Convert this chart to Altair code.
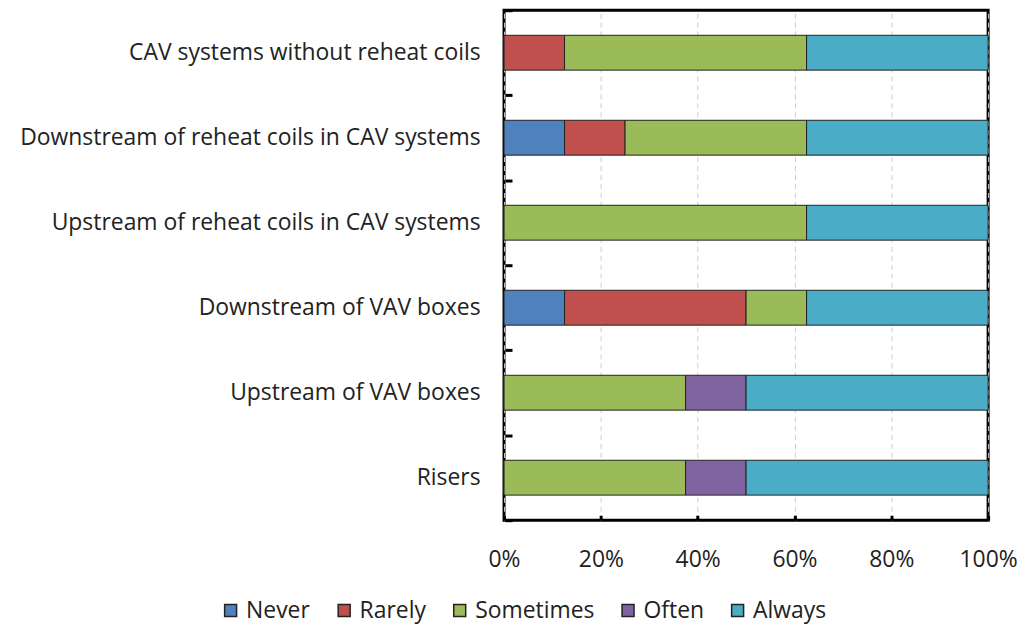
import altair as alt
import pandas as pd

categories = [
    "CAV systems without reheat coils",
    "Downstream of reheat coils in CAV systems",
    "Upstream of reheat coils in CAV systems",
    "Downstream of VAV boxes",
    "Upstream of VAV boxes",
    "Risers",
]
series = ["Never", "Rarely", "Sometimes", "Often", "Always"]
colors = ["#4F81BD", "#C0504D", "#9BBB59", "#8064A2", "#4BACC6"]

never = [0, 12.5, 0, 12.5, 0, 0]
rarely = [12.5, 12.5, 0, 37.5, 0, 0]
sometimes = [50, 37.5, 62.5, 12.5, 37.5, 37.5]
often = [0, 0, 0, 0, 12.5, 12.5]
always = [37.5, 37.5, 37.5, 37.5, 50, 50]

x_ticks = [0, 0.2, 0.4, 0.6, 0.8, 1.0]

rows = []
for s_i, (name, vals) in enumerate(zip(series, [never, rarely, sometimes, often, always])):
    for c, v in zip(categories, vals):
        rows.append({"category": c, "series": name, "value": v / 100.0, "rank": s_i})
df = pd.DataFrame(rows)

FONT = "Open Sans"
FS = 23

chart = alt.Chart(df).mark_bar(
    height=alt.RelativeBandSize(0.41), stroke="#222222", strokeWidth=1
).encode(
    y=alt.Y(
        "category:N",
        sort=categories,
        title=None,
        scale=alt.Scale(paddingInner=0, paddingOuter=0),
        axis=alt.Axis(
            domain=False,
            tickBand="extent",
            ticks=True,
            tickSize=7,
            tickWidth=3,
            tickColor="black",
            offset=-8,
            labelPadding=25,
            labelFontSize=FS,
            labelFont=FONT,
            labelColor="#222222",
            labelLimit=700,
            grid=False,
        ),
    ),
    x=alt.X(
        "value:Q",
        stack="zero",
        title=None,
        scale=alt.Scale(domain=[0, 1], nice=False),
        axis=alt.Axis(
            values=x_ticks,
            format=".0%",
            domain=False,
            ticks=True,
            tickSize=5,
            tickWidth=3,
            tickColor="black",
            offset=-5,
            labelPadding=28,
            labelFlush=False,
            labelFontSize=FS,
            labelFont=FONT,
            labelColor="#222222",
            grid=True,
            gridColor="#cccccc",
            gridDash=[5, 4],
            gridWidth=1,
        ),
    ),
    color=alt.Color(
        "series:N",
        sort=series,
        scale=alt.Scale(domain=series, range=colors),
        legend=alt.Legend(
            title=None,
            orient="none",
            direction="horizontal",
            legendX=-286,
            legendY=591,
            symbolType="square",
            symbolSize=144,
            symbolStrokeColor="#222222",
            symbolStrokeWidth=1.5,
            labelFontSize=FS,
            labelFont=FONT,
            labelColor="#222222",
            columnPadding=22,
            labelOffset=4,
        ),
    ),
    order=alt.Order("rank:Q", sort="ascending"),
).properties(
    width=486,
    height=512,
    autosize=alt.AutoSizeParams(type="none"),
    padding={"left": 498, "top": 1, "right": 30, "bottom": 106},
).configure(
    background="white"
).configure_view(
    stroke="black", strokeWidth=3
)

chart.save("out.html", embed_options={"renderer": "svg", "actions": False})
